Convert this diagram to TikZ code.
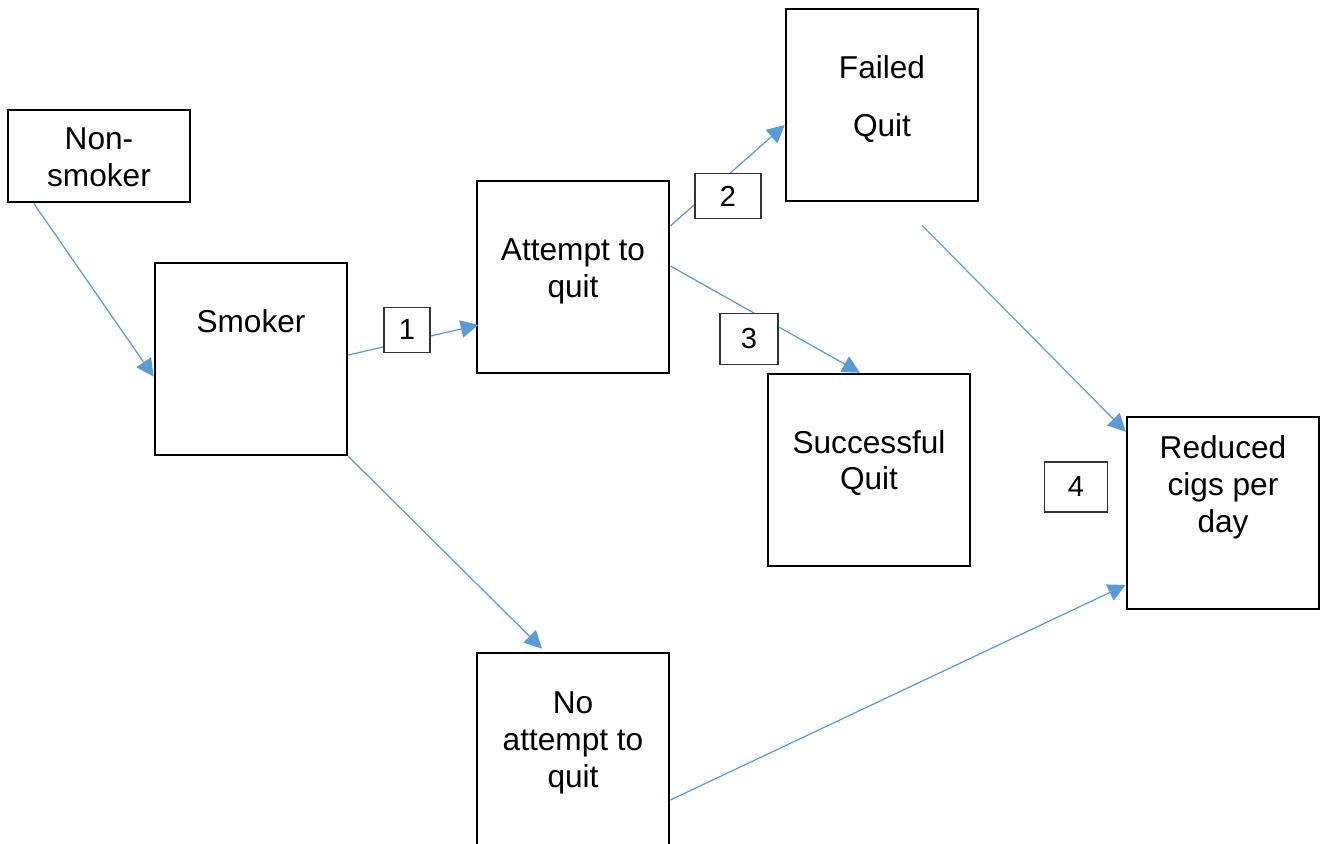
\documentclass[tikz,border=0pt]{standalone}
\usepackage{fontspec}
\setmainfont{Liberation Sans}
\usetikzlibrary{arrows.meta,calc}
\definecolor{flowblue}{HTML}{5B9BD5}
\tikzset{
  stage/.style={draw=black,line width=1.5pt,fill=white,inner sep=0pt},
  stagetext/.style={align=center,font=\fontsize{18}{21}\selectfont},
  tag/.style={draw=black!80,line width=0.6pt,fill=white,inner sep=0pt,
    font=\fontsize{16.5}{19}\selectfont},
  flow/.style={draw=flowblue,line width=0.7pt,-{Triangle[length=10pt,width=10pt]}}
}
\begin{document}
\begin{tikzpicture}[x=0.02cm,y=-0.02cm]
  \useasboundingbox (0,0) rectangle (1327,844);

  % boxes
  \node[stage,minimum width=182*0.02cm,minimum height=92*0.02cm] (nonsmoker) at (99,156) {};
  \node[stage,minimum width=192*0.02cm,minimum height=192*0.02cm] (smoker) at (251,359) {};
  \node[stage,minimum width=192*0.02cm,minimum height=192*0.02cm] (attempt) at (573,277) {};
  \node[stage,minimum width=192*0.02cm,minimum height=192*0.02cm] (failed) at (882,105) {};
  \node[stage,minimum width=202*0.02cm,minimum height=192*0.02cm] (success) at (869,470) {};
  \node[stage,minimum width=192*0.02cm,minimum height=192*0.02cm] (reduced) at (1223,513) {};
  \node[stage,minimum width=192*0.02cm,minimum height=192*0.02cm] (noattempt) at (573,749) {};

  % box texts
  \node[stagetext] (nonsmokertxt) at (99,157) {Non-\\smoker};
  \node[stagetext] (smokertxt) at (251,321) {Smoker};
  \node[stagetext] (attempttxt) at (573,271) {Attempt to\\quit};
  \node[stagetext] (failedtxt) at (882,99) {Failed\\[12pt]Quit};
  \node[stagetext] (successtxt) at (869,463) {Successful\\Quit};
  \node[stagetext] (reducedtxt) at (1223,487) {Reduced\\cigs per\\day};
  \node[stagetext] (noattempttxt) at (573,743) {No\\attempt to\\quit};

  % transitions
  \draw[flow] ($(nonsmoker.south west)+(27,0)$) -- ($(smoker.north west)+(0,115)$);
  \draw[flow] ($(smoker.east)+(0,-4)$) -- ($(attempt.east)+(-192,48)$);
  \draw[flow] ($(attempt.east)+(0,-51)$) -- ($(failed.west)+(0,20)$);
  \draw[flow] ($(attempt.east)+(0,-11)$) -- ($(success.north)+(-9,0)$);
  \draw[flow] ($(failed.south)+(40,23)$) -- ($(reduced.north west)+(0,16)$);
  \draw[flow] (smoker.south east) -- ($(noattempt.north)+(-31,-3)$);
  \draw[flow] ($(noattempt.east)+(0,51)$) -- ($(reduced.west)+(0,72)$);

  % numbered tags
  \node[tag,minimum width=46*0.02cm,minimum height=45*0.02cm] (n1) at (407,330) {1};
  \node[tag,minimum width=66*0.02cm,minimum height=45*0.02cm] (n2) at (728,196) {2};
  \node[tag,minimum width=58*0.02cm,minimum height=51*0.02cm] (n3) at (749,339) {3};
  \node[tag,minimum width=63*0.02cm,minimum height=50*0.02cm] (n4) at (1076,487) {4};

\end{tikzpicture}
\end{document}
